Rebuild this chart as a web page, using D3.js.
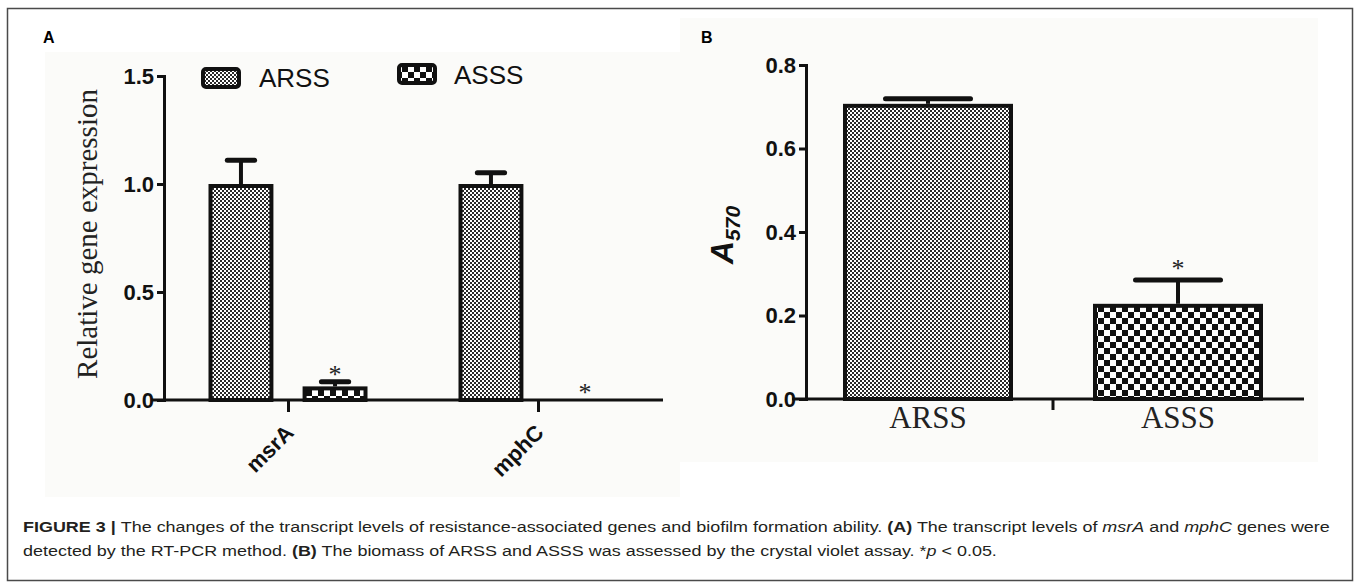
<!DOCTYPE html>
<html>
<head>
<meta charset="utf-8">
<script src="https://cdn.jsdelivr.net/npm/d3@7"></script>
<style>
body { margin: 0; background: #fff; }
svg { display: block; }
.tick text { font-family: "Liberation Sans", Arial, sans-serif; font-weight: bold; }
</style>
</head>
<body>
<div id="chart"></div>
<script>
// panel A: relative expression
var genes = ["msrA", "mphC"];
var strains = ["ARSS", "ASSS"];
var arssExpr = [1.00, 1.00];
var arssExprErr = [0.11, 0.052];
var asssExpr = [0.063, 0.0];
var asssExprErr = [0.022, 0.0];
var asssExprSig = [true, true];
var exprTicks = [0, 0.5, 1.0, 1.5];

// panel B: biofilm biomass (A570)
var biomass = [0.707, 0.228];
var biomassErr = [0.012, 0.057];
var biomassSig = [false, true];
var biomassTicks = [0, 0.2, 0.4, 0.6, 0.8];

var width = 1358, height = 585;

var svg = d3.select("#chart").append("svg")
    .attr("width", width)
    .attr("height", height);

var defs = svg.append("defs");

// fine checker for ARSS, coarse checker for ASSS
function checker(id, size, ink) {
    var p = defs.append("pattern")
        .attr("id", id)
        .attr("patternUnits", "userSpaceOnUse")
        .attr("width", size * 2)
        .attr("height", size * 2);
    p.append("rect").attr("width", size * 2).attr("height", size * 2).attr("fill", "#fff");
    p.append("rect").attr("width", size).attr("height", size).attr("fill", ink);
    p.append("rect").attr("x", size).attr("y", size).attr("width", size).attr("height", size).attr("fill", ink);
}
checker("fine", 2, "#2a2a2a");
checker("coarse", 6, "#111");
var fills = {ARSS: "url(#fine)", ASSS: "url(#coarse)"};

// outer frame
svg.append("rect")
    .attr("x", 7.5).attr("y", 8.5)
    .attr("width", 1345).attr("height", 572)
    .attr("fill", "none")
    .attr("stroke", "#4a4a4a")
    .attr("stroke-width", 1.5);

// faint scanned backgrounds
svg.append("rect").attr("x", 45).attr("y", 52).attr("width", 635).attr("height", 445).attr("fill", "#fbfbf9");
svg.append("rect").attr("x", 680).attr("y", 18).attr("width", 638).attr("height", 444).attr("fill", "#fbfbf9");

svg.append("text").attr("x", 43).attr("y", 43).text("A")
    .style("font", "bold 16px 'Liberation Sans', Arial, sans-serif");
svg.append("text").attr("x", 701).attr("y", 43).text("B")
    .style("font", "bold 16px 'Liberation Sans', Arial, sans-serif");

function styleAxis(g) {
    g.select(".domain").attr("stroke", "#111").attr("stroke-width", 3).attr("stroke-linecap", "square");
    g.selectAll(".tick line").attr("stroke", "#111").attr("stroke-width", 3);
    g.selectAll(".tick text").attr("fill", "#111").style("font-size", "22px");
}

function drawBar(g, x, w, y0, y1, fill) {
    g.append("rect")
        .attr("x", x + 2).attr("y", y1 + 2)
        .attr("width", w - 4).attr("height", Math.max(0, y0 - y1 - 2))
        .attr("fill", fill)
        .attr("stroke", "#111")
        .attr("stroke-width", 4);
}

function drawErr(g, cx, yTop, yCap, capW) {
    if (yTop - yCap < 1) return;
    g.append("line")
        .attr("x1", cx).attr("x2", cx).attr("y1", yTop).attr("y2", yCap)
        .attr("stroke", "#111").attr("stroke-width", 4);
    g.append("line")
        .attr("x1", cx - capW / 2).attr("x2", cx + capW / 2).attr("y1", yCap).attr("y2", yCap)
        .attr("stroke", "#111").attr("stroke-width", 5).attr("stroke-linecap", "round");
}

function drawStar(g, cx, y) {
    g.append("text")
        .attr("x", cx).attr("y", y)
        .attr("text-anchor", "middle")
        .style("font", "26px 'Liberation Serif', 'Times New Roman', serif")
        .attr("fill", "#222")
        .text("*");
}

// ---------- panel A ----------
var gA = svg.append("g");
var yA = d3.scaleLinear().domain([0, 1.5]).range([400, 76]);
var xA = d3.scalePoint().domain(genes).range([288, 538]);
var xInner = d3.scaleBand().domain(strains).range([-79.5, 79.5]).paddingInner(0.31);

gA.append("line")
    .attr("x1", 152).attr("x2", 663).attr("y1", yA(0)).attr("y2", yA(0))
    .attr("stroke", "#111").attr("stroke-width", 3);

gA.append("g")
    .attr("transform", "translate(0," + yA(0) + ")")
    .call(d3.axisBottom(xA).tickSize(12).tickFormat(""))
    .call(function (g) {
        g.select(".domain").remove();
        g.selectAll(".tick line").attr("stroke", "#111").attr("stroke-width", 3);
    });

gA.append("g")
    .attr("transform", "translate(164,0)")
    .call(d3.axisLeft(yA).tickValues(exprTicks).tickFormat(d3.format(".1f")).tickSize(7).tickSizeOuter(0).tickPadding(3))
    .call(styleAxis);

genes.forEach(function (gene, i) {
    var vals = {ARSS: [arssExpr[i], arssExprErr[i]], ASSS: [asssExpr[i], asssExprErr[i]]};
    strains.forEach(function (s) {
        var x = xA(gene) + xInner(s);
        var w = xInner.bandwidth();
        var v = vals[s][0], e = vals[s][1];
        if (yA(0) - yA(v) > 3) drawBar(gA, x, w, yA(0), yA(v), fills[s]);
        drawErr(gA, x + w / 2, yA(v), yA(v + e), w * 0.42);
        if (s === "ASSS" && asssExprSig[i]) drawStar(gA, x + w / 2, yA(v + e) + 1);
    });
    gA.append("text")
        .attr("transform", "translate(" + (xA(gene) + 7) + ",434) rotate(-45)")
        .attr("text-anchor", "end")
        .style("font", "bold 22px 'Liberation Sans', Arial, sans-serif")
        .attr("fill", "#111")
        .text(gene);
});

gA.append("text")
    .attr("transform", "translate(97,234) rotate(-90)")
    .attr("text-anchor", "middle")
    .style("font", "29px 'Liberation Serif', 'Times New Roman', serif")
    .attr("fill", "#222")
    .text("Relative gene expression");

// legend
var legendPos = [[201, 67, 259, 87], [397, 63, 454, 84]];
strains.forEach(function (s, i) {
    var p = legendPos[i];
    gA.append("rect")
        .attr("x", p[0] + 2).attr("y", p[1] + 2)
        .attr("width", 36).attr("height", 18)
        .attr("rx", 3)
        .attr("fill", fills[s])
        .attr("stroke", "#111").attr("stroke-width", 4);
    gA.append("text")
        .attr("x", p[2]).attr("y", p[3])
        .style("font", "26px 'Liberation Sans', Arial, sans-serif")
        .attr("fill", "#111")
        .text(s);
});

// ---------- panel B ----------
var gB = svg.append("g");
var yB = d3.scaleLinear().domain([0, 0.8]).range([399, 65]);
var xB = d3.scaleBand().domain(strains).range([803, 1303]).paddingInner(0.32).paddingOuter(0.16);

gB.append("line")
    .attr("x1", 792).attr("x2", 1304).attr("y1", yB(0)).attr("y2", yB(0))
    .attr("stroke", "#111").attr("stroke-width", 3);

var midB = xB("ASSS") - xB.step() * xB.paddingInner() / 2;
gB.append("line")
    .attr("x1", midB).attr("x2", midB).attr("y1", yB(0)).attr("y2", yB(0) + 11)
    .attr("stroke", "#111").attr("stroke-width", 3);

gB.append("g")
    .attr("transform", "translate(806,0)")
    .call(d3.axisLeft(yB).tickValues(biomassTicks).tickFormat(d3.format(".1f")).tickSize(7).tickSizeOuter(0).tickPadding(3))
    .call(styleAxis);

strains.forEach(function (s, i) {
    var x = xB(s), w = xB.bandwidth();
    drawBar(gB, x, w, yB(0), yB(biomass[i]), fills[s]);
    drawErr(gB, x + w / 2, yB(biomass[i]), yB(biomass[i] + biomassErr[i]), w * 0.5);
    if (biomassSig[i]) drawStar(gB, x + w / 2, yB(biomass[i] + biomassErr[i]) - 3);
    gB.append("text")
        .attr("x", x + w / 2).attr("y", 428)
        .attr("text-anchor", "middle")
        .style("font", "31px 'Liberation Serif', 'Times New Roman', serif")
        .attr("fill", "#222")
        .text(s);
});

var yLabB = gB.append("text")
    .attr("transform", "translate(733,235) rotate(-90)")
    .attr("text-anchor", "middle")
    .style("font", "italic bold 32px 'Liberation Sans', Arial, sans-serif")
    .attr("fill", "#111");
yLabB.append("tspan").text("A");
yLabB.append("tspan").attr("dy", 7).style("font-size", "21px").text("570");

// ---------- caption (source figure is stretched sideways) ----------
var cap = svg.append("g")
    .attr("transform", "translate(23,0) scale(1.197,1)")
    .style("font", "15px 'Liberation Sans', Arial, sans-serif")
    .attr("fill", "#231f20");

var line1 = cap.append("text").attr("x", 0).attr("y", 532);
line1.append("tspan").style("font-weight", "bold").text("FIGURE 3 | ");
line1.append("tspan").text("The changes of the transcript levels of resistance-associated genes and biofilm formation ability. ");
line1.append("tspan").style("font-weight", "bold").text("(A)");
line1.append("tspan").text(" The transcript levels of ");
line1.append("tspan").style("font-style", "italic").text("msrA");
line1.append("tspan").text(" and ");
line1.append("tspan").style("font-style", "italic").text("mphC");
line1.append("tspan").text(" genes were");

var line2 = cap.append("text").attr("x", 0).attr("y", 556);
line2.append("tspan").text("detected by the RT-PCR method. ");
line2.append("tspan").style("font-weight", "bold").text("(B)");
line2.append("tspan").text(" The biomass of ARSS and ASSS was assessed by the crystal violet assay. *");
line2.append("tspan").style("font-style", "italic").text("p");
line2.append("tspan").text(" < 0.05.");
</script>
</body>
</html>
